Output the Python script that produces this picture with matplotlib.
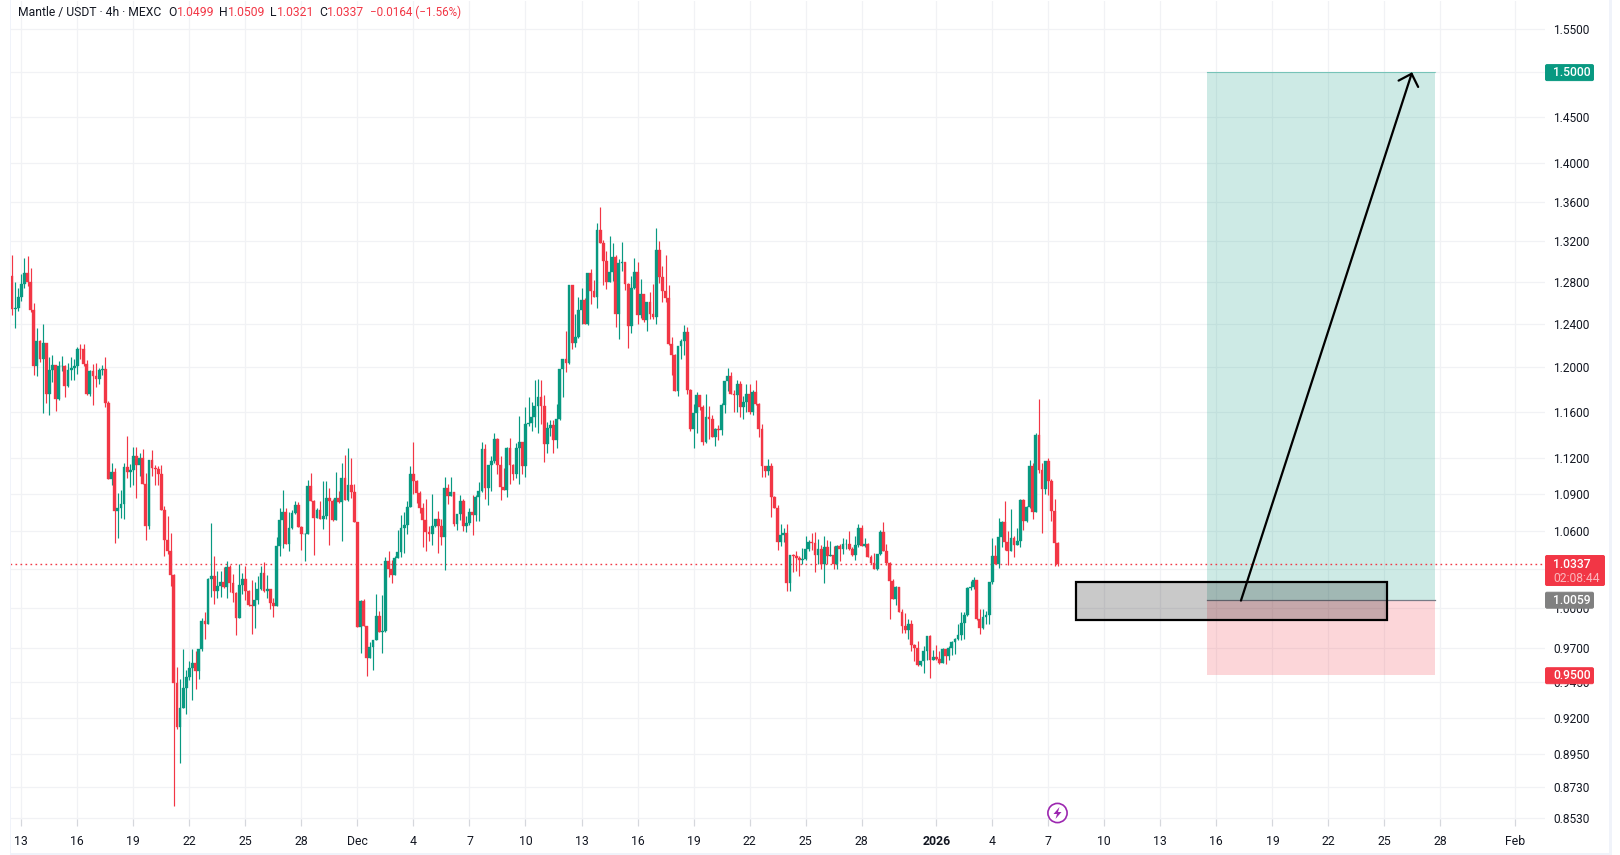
import matplotlib
matplotlib.use("Agg")
import matplotlib.pyplot as plt
from matplotlib.patches import Rectangle, FancyBboxPatch, Circle, Polygon
from matplotlib.transforms import Affine2D
from matplotlib.ticker import FixedLocator, NullLocator, FixedFormatter

first_open = 1.2855
closes = [1.254,1.2547,1.2653,1.2778,1.2885,1.2797,1.2528,1.2009,1.2237,1.2074,
1.2219,1.1755,1.197,1.2015,1.171,1.2006,1.2012,1.1826,1.197,1.1988,
1.2006,1.2163,1.216,1.2025,1.1755,1.1961,1.1916,1.1889,1.197,1.1976,
1.1675,1.102,1.1078,1.0761,1.0782,1.082,1.112,1.1078,1.1095,1.122,
1.1144,1.1203,1.0978,1.064,1.1186,1.1119,1.1103,1.1061,1.0769,1.0526,
1.0438,1.0248,.9443,.9138,.9267,.941,.9488,.9552,.9588,.9531,
.9693,.9902,.9875,1.0218,1.0241,1.0125,1.0164,1.0195,1.0156,1.031,
1.0187,1.011,.992,1.0172,1.0218,1.0125,1.0018,1.0012,1.0056,1.0141,
1.0264,1.0125,1.0141,1.0033,1.001,1.0478,1.0686,1.075,1.0494,1.0621,
1.0742,1.0806,1.063,1.0574,1.0576,1.0961,1.0838,1.0702,1.0766,1.0694,
1.0718,1.0862,1.0838,1.0686,1.0862,1.083,1.1028,1.0846,1.0969,1.0911,
1.0672,.9855,1.0051,.986,.9625,.9703,.9755,.9933,.9815,.9825,
1.0358,1.0295,1.0248,1.0385,1.0433,1.0619,1.0646,1.079,1.1061,1.1006,
1.0903,1.0782,1.0686,1.0589,1.0573,1.0638,1.0694,1.0638,1.0549,1.0944,
1.0879,1.0911,1.0654,1.0734,1.0839,1.0638,1.0662,1.075,1.0726,1.0871,
1.0919,1.1273,1.0944,1.1144,1.117,1.136,1.1144,1.0953,1.0928,1.1281,
1.1144,1.1061,1.1281,1.1333,1.1128,1.149,1.1499,1.1551,1.1648,1.1728,
1.1648,1.1316,1.1455,1.1481,1.1351,1.1534,1.1979,1.2071,1.2034,1.2768,
1.2219,1.2274,1.2528,1.2624,1.24,1.2885,1.271,1.2653,1.3309,1.3177,
1.3002,1.2797,1.2894,1.3041,1.249,1.2982,1.2992,1.2778,1.2375,1.2739,
1.2894,1.248,1.2682,1.2432,1.2605,1.249,1.2461,1.3109,1.2846,1.271,
1.2643,1.2209,1.2108,1.1782,1.2191,1.2237,1.232,1.1791,1.1447,1.1586,
1.1746,1.1639,1.1333,1.1551,1.1534,1.1377,1.1447,1.1438,1.1657,1.1872,
1.1916,1.1755,1.175,1.1844,1.1639,1.1683,1.1755,1.1594,1.1773,1.1666,
1.1447,1.1136,1.1086,1.1128,1.087,1.0782,1.0509,1.0565,1.0581,1.0187,
1.0406,1.0398,1.0382,1.0366,1.0377,1.0454,1.0509,1.0501,1.0406,1.0454,
1.0334,1.047,1.0398,1.0406,1.0334,1.0478,1.0454,1.0493,1.0496,1.0454,
1.0406,1.0486,1.0621,1.0478,1.0496,1.039,1.0342,1.0295,1.0414,1.0589,
1.0438,1.0342,1.0202,1.0064,1.0156,.9965,.986,.983,.9875,.9718,
.9695,.9574,.9602,.9674,.9785,.961,.9631,.9619,.959,.9688,
.9643,.9695,.974,.9763,.9793,.9883,.9941,1.0148,1.0156,1.021,
.9913,.9845,.9928,.9941,1.0195,1.0398,1.0334,1.0549,1.067,1.0509,
1.0438,1.0541,1.0486,1.0517,1.0846,1.0678,1.079,1.1128,1.075,1.1393,
1.1095,1.0939,1.117,1.1003,1.0758,1.0499,1.0337]
highs = [1.306,1.2797,1.2742,1.2878,1.3031,1.305,1.2933,1.2595,1.2357,1.2246,
1.2394,1.2219,1.2089,1.2108,1.2015,1.2052,1.2099,1.2015,1.2034,1.2089,
1.2071,1.2182,1.2209,1.2209,1.2062,1.197,1.2025,1.2034,1.1988,1.2015,
1.2089,1.1698,1.1161,1.1111,1.0903,1.0928,1.1161,1.1386,1.1153,1.129,
1.129,1.1246,1.1272,1.107,1.1186,1.1264,1.1144,1.1128,1.1144,1.0798,
1.0718,1.0581,1.0256,.956,.9474,.9688,.9538,.9602,.9688,.9674,
.9693,.992,.9965,1.0226,1.0661,1.0398,1.0279,1.0279,1.031,1.0358,
1.0326,1.0256,1.0118,1.0334,1.0264,1.0318,1.0133,1.021,1.0195,1.0241,
1.0318,1.035,1.0251,1.0141,1.0072,1.055,1.0782,1.0928,1.0782,1.075,
1.0766,1.0838,1.083,1.0637,1.0581,1.1011,1.107,1.0846,1.0782,1.0838,
1.1003,1.1003,1.0945,1.0854,1.1078,1.092,1.1161,1.1228,1.1286,1.1203,
1.0978,1.0672,1.0056,1.0064,.986,.974,.9755,1.0102,.9972,1.0095,
1.0387,1.0438,1.0366,1.04,1.0606,1.0726,1.0753,1.0838,1.1128,1.1334,
1.1011,1.0919,1.0822,1.0854,1.0638,1.0895,1.0694,1.0758,1.0694,1.1036,
1.0978,1.1036,1.0911,1.0734,1.0887,1.0854,1.0718,1.0782,1.0887,1.0887,
1.1,1.1333,1.1316,1.1144,1.122,1.1412,1.1368,1.122,1.1111,1.129,
1.1368,1.1153,1.1325,1.156,1.1325,1.1639,1.1728,1.1683,1.188,1.1889,
1.188,1.1746,1.1507,1.1525,1.1525,1.1666,1.1979,1.2071,1.233,1.2768,
1.2768,1.249,1.2653,1.274,1.2643,1.2885,1.2924,1.2816,1.3381,1.3544,
1.3207,1.3099,1.3248,1.3177,1.306,1.3021,1.3187,1.2992,1.2787,1.2855,
1.3031,1.2992,1.2826,1.2682,1.2605,1.2701,1.2778,1.333,1.3197,1.2951,
1.306,1.2768,1.2274,1.2117,1.2191,1.2256,1.2384,1.2366,1.18,1.1666,
1.1773,1.1746,1.1655,1.1755,1.1648,1.1568,1.1455,1.1481,1.1675,1.1872,
1.1988,1.1952,1.1791,1.188,1.1872,1.1737,1.1844,1.1844,1.1791,1.188,
1.1675,1.1488,1.1136,1.1194,1.1161,1.0881,1.0806,1.0654,1.0621,1.0654,
1.0406,1.0411,1.0438,1.0398,1.0462,1.0557,1.0525,1.0581,1.0589,1.0533,
1.0486,1.0557,1.0525,1.052,1.048,1.0486,1.0494,1.0541,1.0533,1.0597,
1.047,1.0557,1.0654,1.0646,1.0541,1.0504,1.0406,1.0419,1.0414,1.0605,
1.067,1.0493,1.035,1.0218,1.0164,1.0156,.9988,.9958,.9913,.9905,
.9725,.9748,.9602,.971,.9785,.9793,.9681,.9718,.9674,.9695,
.9688,.971,.9748,.977,.9875,.9965,.9965,1.0156,1.0202,1.0233,
1.021,.9988,.9988,.9972,1.0195,1.0541,1.0486,1.0702,1.0678,1.0839,
1.0597,1.0774,1.0557,1.0621,1.0854,1.0854,1.0798,1.1186,1.1161,1.141,
1.1708,1.1161,1.1178,1.1203,1.102,1.0854,1.0509]
lows = [1.248,1.236,1.2518,1.2616,1.2742,1.2758,1.2509,1.1925,1.1917,1.2043,
1.1585,1.1675,1.1568,1.1862,1.1603,1.1701,1.1961,1.1728,1.1817,1.188,
1.188,1.1934,1.2071,1.2006,1.1746,1.1737,1.1657,1.1817,1.1844,1.1925,
1.1639,1.102,1.0969,1.0505,1.0542,1.0702,1.0694,1.1028,1.0953,1.0969,
1.0862,1.1045,1.0978,1.0526,1.0616,1.1045,1.0969,1.0969,1.0769,1.0399,
1.0414,1.0164,.8606,.9121,.8892,.9267,.9224,.9467,.9324,.9402,
.9474,.968,.9763,.9875,1.0079,1.0025,1.0072,1.0079,1.0148,1.0072,
1.0118,1.0041,.9793,.992,1.0102,1.0056,1.001,.98,.9845,1.0025,
1.0133,1.0118,1.0072,.9988,.9928,1.001,1.0395,1.0462,1.0494,1.0438,
1.0613,1.0734,1.063,1.0446,1.0358,1.0574,1.0838,1.0406,1.0702,1.0694,
1.0613,1.0691,1.0486,1.0678,1.0686,1.0825,1.0518,1.0846,1.0841,1.0868,
1.0672,.9855,.9665,.986,.9495,.9625,.9538,.9755,.9815,.9665,
.9818,1.0233,1.0187,1.0248,1.038,1.0393,1.0419,1.0573,1.079,1.0895,
1.0822,1.0742,1.047,1.0438,1.0517,1.0486,1.0632,1.0422,1.0486,1.0287,
1.0814,1.0879,1.0638,1.0605,1.0686,1.0597,1.0589,1.0646,1.0565,1.0678,
1.0678,1.0911,1.0854,1.0806,1.0919,1.1161,1.1061,1.0846,1.0928,1.0871,
1.0978,1.1011,1.1028,1.0978,1.1061,1.1036,1.1472,1.1429,1.1464,1.1412,
1.149,1.1169,1.1238,1.1386,1.1238,1.1281,1.1525,1.1728,1.1952,1.2025,
1.2163,1.2182,1.2265,1.24,1.2394,1.2385,1.2586,1.2653,1.2547,1.3177,
1.2768,1.273,1.2797,1.2806,1.2366,1.2256,1.2904,1.272,1.2172,1.2311,
1.273,1.2394,1.2451,1.2413,1.233,1.2442,1.2442,1.2394,1.2787,1.2605,
1.2605,1.22,1.1925,1.1782,1.1737,1.2071,1.2108,1.1755,1.1429,1.1281,
1.1412,1.1612,1.1307,1.1325,1.136,1.1377,1.1299,1.1351,1.1394,1.1585,
1.178,1.1755,1.1594,1.16,1.1551,1.1534,1.1594,1.1577,1.1568,1.1657,
1.1377,1.1036,1.1036,1.1053,1.071,1.0782,1.0446,1.0478,1.0509,1.0125,
1.0125,1.0271,1.028,1.0241,1.0332,1.0366,1.0438,1.0446,1.0271,1.0334,
1.0295,1.0187,1.0334,1.0398,1.0295,1.0295,1.0358,1.0414,1.0454,1.0446,
1.0398,1.0366,1.047,1.0478,1.0467,1.039,1.0334,1.0295,1.0287,1.0406,
1.0438,1.0326,.9913,1.0064,1.0018,.9965,.9808,.9808,.9763,.968,
.9602,.9567,.9567,.9517,.961,.9481,.961,.961,.9583,.959,
.9583,.961,.965,.9655,.9755,.9755,.9763,.9935,1.0133,1.0141,
.9905,.98,.9838,.9875,.9875,1.0179,1.0334,1.0302,1.047,1.0446,
1.0326,1.0438,1.039,1.0486,1.047,1.0605,1.067,1.0782,1.0694,1.075,
1.107,1.0581,1.0895,1.0887,1.0678,1.0319,1.0321]

date_bars = [3,21,39,57,75,93,111,129,147,165,183,201,219,237,255,273,297,315,333,351,369,387,405,423,441,459,483]
date_labels = ["13","16","19","22","25","28","Dec","4","7","10","13","16","19","22","25","28","2026","4","7","10","13","16","19","22","25","28","Feb"]
price_ticks = [1.55,1.5,1.45,1.4,1.36,1.32,1.28,1.24,1.2,1.16,1.12,1.09,1.06,1.03,1.0,.97,.945,.92,.895,.873,.853]
price_labels = ["" if p == 1.03 else f"{p:.4f}" for p in price_ticks]
last_price = 1.0337
entry, target, stop = 1.0059, 1.5, 0.95
position_bars = (384, 457.3)
zone_bars = (341.9, 441.8)
zone_prices = (0.991, 1.0199)
arrow_start = (394.9, 1.0053)
arrow_end = (449.9, 1.5)
header_items = [("Mantle / USDT · 4h · MEXC", 18, "#131722", 8.7), ("O", 168, "#131722", 8.7), ("1.0499", 177, "#F23645", 8.7),
                ("H", 219, "#131722", 8.7), ("1.0509", 228, "#F23645", 8.7), ("L", 270, "#131722", 8.7), ("1.0321", 277, "#F23645", 8.7),
                ("C", 319, "#131722", 8.7), ("1.0337", 327, "#F23645", 8.7), ("−0.0164 (−1.56%)", 370, "#F23645", 8.35)]

RED, GREEN = "#F23645", "#089981"
GRID = "#f1f2f5"
FONT = "Roboto"
plt.rcParams["font.family"] = [FONT, "DejaVu Sans"]

fig = plt.figure(figsize=(16.2, 8.55), dpi=100, facecolor="white")
PX = Affine2D().scale(1/1620, -1/855).translate(0, 1) + fig.transFigure
ax = fig.add_axes([10/1620, 29.4/855, 1535/1620, 825/855])
ax.set_yscale("log")
ax.set_xlim(-0.64, 492.6)
ax.set_ylim(0.8478, 1.5836)
for s in ax.spines.values():
    s.set_visible(False)
ax.set_axisbelow(True)
ax.xaxis.set_major_locator(FixedLocator(date_bars))
ax.xaxis.set_major_formatter(FixedFormatter(date_labels))
ax.xaxis.set_minor_locator(NullLocator())
ax.yaxis.tick_right()
ax.yaxis.set_major_locator(FixedLocator(price_ticks))
ax.yaxis.set_major_formatter(FixedFormatter(price_labels))
ax.yaxis.set_minor_locator(NullLocator())
ax.grid(True, color=GRID, lw=0.9)
ax.tick_params(axis="y", length=0, pad=5.8, labelsize=8.6, labelcolor="#131722")
ax.tick_params(axis="x", length=5, direction="in", color="#d5d7dc", pad=6.5, labelsize=8.8, labelcolor="#131722")
for t, lab in zip(ax.get_xticklabels(), date_labels):
    if lab == "2026":
        t.set_fontweight("bold")

# position tool
ax.fill_between(position_bars, entry, target, color=GREEN, alpha=0.2, lw=0, zorder=1)
ax.fill_between(position_bars, stop, entry, color=RED, alpha=0.2, lw=0, zorder=1)
ax.plot(position_bars, [target, target], color=GREEN, alpha=0.4, lw=0.8, zorder=1.2)
ax.plot(position_bars, [entry, entry], color="#787b86", lw=0.9, zorder=1.2)

# candles
bars = list(range(len(closes)))
opens = [first_open] + closes[:-1]
cols = [GREEN if c >= o else RED for o, c in zip(opens, closes)]
ax.vlines(bars, lows, highs, colors=cols, lw=0.85, zorder=3)
ax.bar(bars, [abs(c - o) for o, c in zip(opens, closes)], bottom=[min(o, c) for o, c in zip(opens, closes)],
       width=0.9, color=cols, edgecolor=cols, linewidth=0.25, zorder=3)

ax.axhline(last_price, color=RED, lw=1, ls=(0, (1.2, 2.4)), zorder=2)

# zone and arrow
ax.add_patch(Rectangle((zone_bars[0], zone_prices[0]), zone_bars[1]-zone_bars[0], zone_prices[1]-zone_prices[0],
                       facecolor=(0, 0, 0, 0.21), edgecolor="black", lw=1.6, zorder=4))
ax.annotate("", xy=arrow_end, xytext=arrow_start,
            arrowprops=dict(arrowstyle="->,head_length=0.76,head_width=0.74", color="black", lw=1.6,
                            mutation_scale=10, shrinkA=0, shrinkB=0), zorder=5)

def label(text, y_price, color, x1_px, y0_px=None, y1_px=None):
    yc = 855 - ax.transData.transform((0, y_price))[1] + 0.4
    a, b = (yc - 8.5, yc + 8.5) if y0_px is None else (y0_px, y1_px)
    fig.add_artist(FancyBboxPatch((1545.5, a+0.5), x1_px-1546, b-a-1, boxstyle="round,pad=0,rounding_size=1.5",
                                  mutation_aspect=1, facecolor=color, edgecolor=color, lw=0.7, transform=PX, zorder=5))
    fig.text(1553, yc, text, color="white", fontsize=8.7, va="center", ha="left", transform=PX, zorder=6, fontweight="medium")

label("1.5000", target, GREEN, 1594)
label("1.0059", entry, "#808080", 1594)
label("0.9500", stop, RED, 1594)
label("1.0337", last_price, RED, 1605, 555, 586)
fig.text(1553, 578, "02:08:44", color="#fbb6bc", fontsize=8.7, va="center", ha="left", transform=PX, zorder=6)

# header
for txt, xp, col, fs in header_items:
    fig.text(xp, 12.5, txt, color=col, fontsize=fs, va="center", ha="left", transform=PX, zorder=6)

# icon
fig.add_artist(Circle((1057.5, 813), 9.6, facecolor="white", edgecolor="#9C27B0", lw=1.2, transform=PX, zorder=6))
fig.add_artist(Polygon([(1059.5, 807), (1053.5, 814), (1057, 814), (1055.5, 819), (1061.5, 812), (1058, 812)],
                       closed=True, facecolor="#9C27B0", edgecolor="none", transform=PX, zorder=7))

# pane border
for r in [(9.5, 0, 1.6, 855), (1609, 0, 3, 855), (9.5, 853, 1602.5, 2)]:
    fig.add_artist(Rectangle((r[0], r[1]), r[2], r[3], facecolor="#f0f3fa", edgecolor="none", transform=PX, zorder=4))

fig.savefig("out.png", dpi=100, facecolor="white")
